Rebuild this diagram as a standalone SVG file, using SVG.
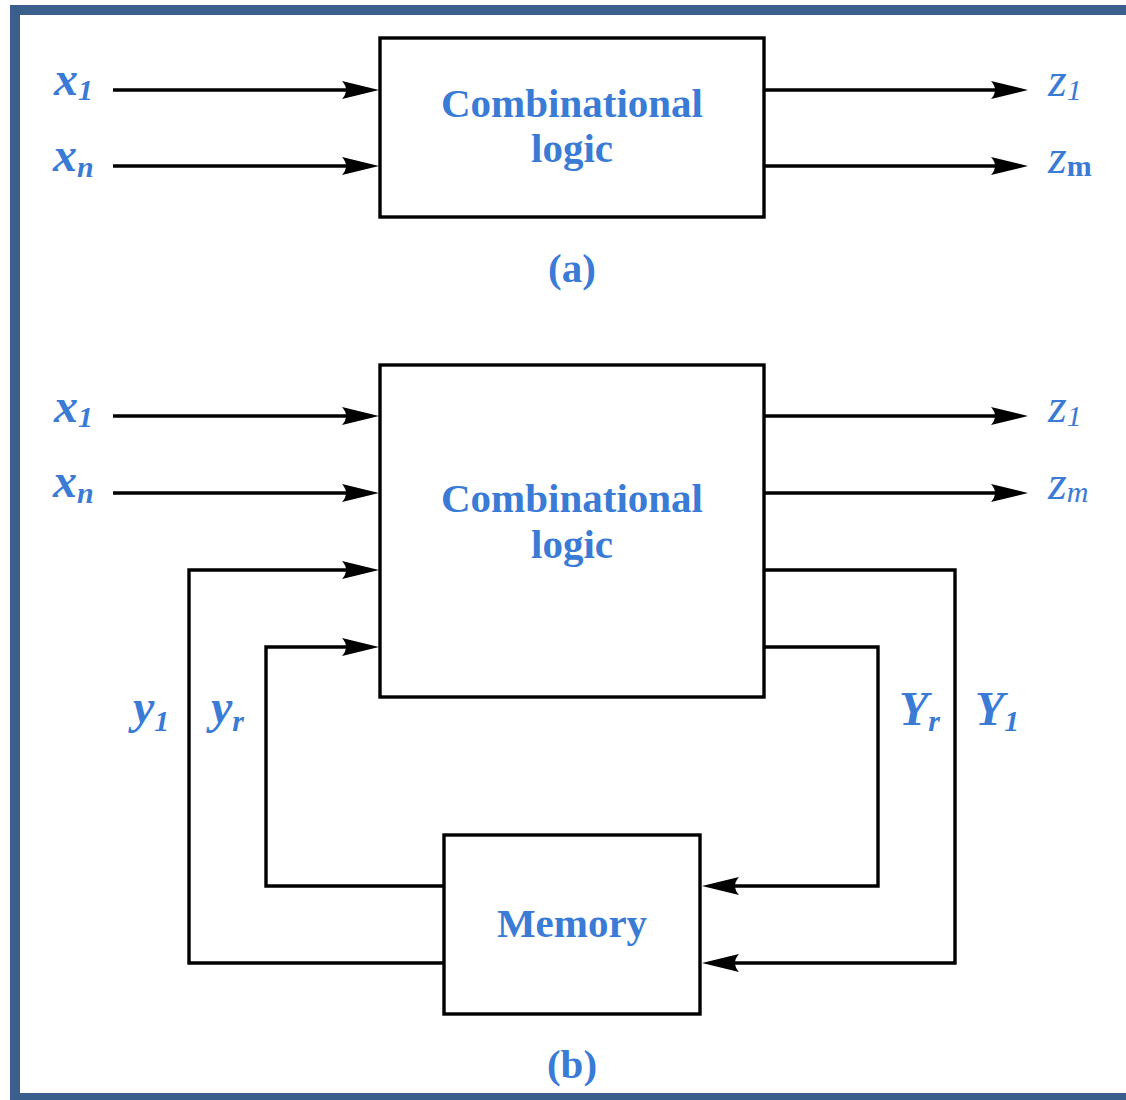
<svg xmlns="http://www.w3.org/2000/svg" width="1126" height="1100" viewBox="0 0 1126 1100">
  <style>
    .box { fill: #ffffff; stroke: #000000; stroke-width: 3.4; }
    .wire { fill: none; stroke: #000000; stroke-width: 3.4; stroke-linejoin: miter; }
    .title { font-family: "Liberation Serif", "Times New Roman", serif; font-weight: bold; font-size: 41px; fill: #3a7bd5; text-anchor: middle; }
    .sig { font-family: "Liberation Serif", "Times New Roman", serif; font-style: italic; font-weight: bold; font-size: 48px; fill: #3a7bd5; }
    .sub { font-size: 30px; }
    .lite { font-weight: normal; }
    .frame { fill: #3b5f8c; }
  </style>
  <defs>
    <marker id="head" viewBox="0 0 37 18" refX="4" refY="9" markerWidth="37" markerHeight="18" markerUnits="userSpaceOnUse" orient="auto">
      <path d="M37,9 L0,0 Q8,9 0,18 Z" fill="#000000"/>
    </marker>
  </defs>

  <rect width="1126" height="1100" fill="#ffffff"/>

  <!-- frame -->
  <rect class="frame" x="10" y="5" width="1116" height="10"/>
  <rect class="frame" x="10" y="5" width="10" height="1095"/>
  <rect class="frame" x="10" y="1093" width="1116" height="7"/>

  <!-- connectors -->
  <g id="connectors">
    <!-- (a) -->
    <path class="wire" d="M113,90 H346" marker-end="url(#head)"/>
    <path class="wire" d="M113,166 H346" marker-end="url(#head)"/>
    <path class="wire" d="M764,90 H995" marker-end="url(#head)"/>
    <path class="wire" d="M764,166 H995" marker-end="url(#head)"/>
    <!-- (b) -->
    <path class="wire" d="M113,416 H346" marker-end="url(#head)"/>
    <path class="wire" d="M113,493 H346" marker-end="url(#head)"/>
    <path class="wire" d="M764,416 H995" marker-end="url(#head)"/>
    <path class="wire" d="M764,493 H995" marker-end="url(#head)"/>
    <!-- feedback: memory to logic -->
    <path class="wire" d="M444,963 H189 V570 H346" marker-end="url(#head)"/>
    <path class="wire" d="M444,886 H266 V647 H346" marker-end="url(#head)"/>
    <!-- next state: logic to memory -->
    <path class="wire" d="M764,570 H955 V963 H735" marker-end="url(#head)"/>
    <path class="wire" d="M764,647 H878 V886 H735" marker-end="url(#head)"/>
  </g>

  <!-- (a) combinational circuit -->
  <g id="logic-a">
    <rect class="box" x="380" y="38" width="384" height="179"/>
    <text class="title" x="572" y="117">Combinational</text>
    <text class="title" x="572" y="162">logic</text>
  </g>
  <text class="title" x="572" y="282">(a)</text>

  <!-- (b) sequential circuit -->
  <g id="logic-b">
    <rect class="box" x="380" y="365" width="384" height="332"/>
    <text class="title" x="572" y="512">Combinational</text>
    <text class="title" x="572" y="558">logic</text>
  </g>
  <g id="memory">
    <rect class="box" x="444" y="835" width="256" height="179"/>
    <text class="title" x="572" y="937">Memory</text>
  </g>
  <text class="title" x="572" y="1078">(b)</text>

  <!-- signal labels -->
  <g id="labels-a">
    <text class="sig" x="54" y="95">x<tspan class="sub" dy="5">1</tspan></text>
    <text class="sig" x="53" y="171">x<tspan class="sub" dy="6">n</tspan></text>
    <text class="sig lite" x="1048" y="96">z<tspan class="sub" dy="4">1</tspan></text>
    <text class="sig lite" x="1048" y="173">z<tspan class="sub" dy="3" font-style="normal" font-weight="bold">m</tspan></text>
  </g>
  <g id="labels-b">
    <text class="sig" x="54" y="422">x<tspan class="sub" dy="5">1</tspan></text>
    <text class="sig" x="53" y="497">x<tspan class="sub" dy="6">n</tspan></text>
    <text class="sig lite" x="1048" y="422">z<tspan class="sub" dy="4">1</tspan></text>
    <text class="sig lite" x="1048" y="499">z<tspan class="sub" dy="3">m</tspan></text>
    <text class="sig" x="133" y="723">y<tspan class="sub" dy="8">1</tspan></text>
    <text class="sig" x="211" y="723">y<tspan class="sub" dy="8">r</tspan></text>
    <text class="sig" x="899" y="725">Y<tspan class="sub" dy="6">r</tspan></text>
    <text class="sig" x="975" y="725">Y<tspan class="sub" dy="6">1</tspan></text>
  </g>
</svg>
